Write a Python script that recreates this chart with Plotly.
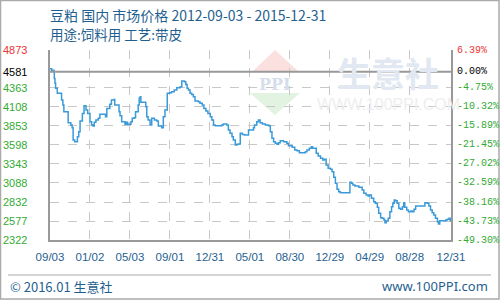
import plotly.graph_objects as go

# ---------------- data ----------------
dates = [
    "2012-09-03", "2012-09-08", "2012-09-15", "2012-09-16", "2012-09-18", "2012-09-20", "2012-09-25",
    "2012-10-08", "2012-10-12", "2012-10-15", "2012-10-28", "2012-11-05", "2012-11-09", "2012-11-12",
    "2012-11-17", "2012-11-23", "2012-11-25", "2012-11-29", "2012-12-03", "2012-12-10", "2012-12-15",
    "2012-12-19", "2012-12-21", "2012-12-26", "2012-12-30", "2013-01-02", "2013-01-07", "2013-01-11",
    "2013-01-15", "2013-01-20", "2013-01-27", "2013-02-01", "2013-02-16", "2013-02-18", "2013-02-22",
    "2013-03-03", "2013-03-08", "2013-03-15", "2013-03-18", "2013-03-27", "2013-03-31", "2013-04-03",
    "2013-04-08", "2013-04-18", "2013-04-22", "2013-04-26", "2013-05-06", "2013-05-10", "2013-05-16",
    "2013-05-20", "2013-05-28", "2013-05-31", "2013-06-03", "2013-06-05", "2013-06-15", "2013-06-20",
    "2013-06-23", "2013-06-27", "2013-07-03", "2013-07-08", "2013-07-16", "2013-07-23", "2013-07-28",
    "2013-08-07", "2013-08-12", "2013-08-17", "2013-08-24", "2013-08-31", "2013-09-06", "2013-09-14",
    "2013-09-22", "2013-10-02", "2013-10-07", "2013-10-15", "2013-10-19", "2013-10-23", "2013-10-27",
    "2013-11-01", "2013-11-06", "2013-11-11", "2013-11-16", "2013-11-26", "2013-12-01", "2013-12-08",
    "2013-12-13", "2013-12-19", "2013-12-25", "2014-01-01", "2014-01-06", "2014-01-11", "2014-01-16",
    "2014-02-05", "2014-02-10", "2014-02-20", "2014-02-25", "2014-03-02", "2014-03-08", "2014-03-12",
    "2014-03-18", "2014-03-23", "2014-03-28", "2014-04-02", "2014-04-08", "2014-04-15", "2014-04-22",
    "2014-04-27", "2014-05-05", "2014-05-12", "2014-05-15", "2014-05-22", "2014-05-27", "2014-06-01",
    "2014-06-08", "2014-06-17", "2014-06-27", "2014-07-02", "2014-07-07", "2014-07-12", "2014-07-17",
    "2014-07-22", "2014-07-27", "2014-08-01", "2014-08-11", "2014-08-21", "2014-08-26", "2014-09-06",
    "2014-09-14", "2014-09-21", "2014-09-28", "2014-10-11", "2014-10-16", "2014-10-21", "2014-10-28",
    "2014-11-03", "2014-11-07", "2014-11-13", "2014-11-18", "2014-11-24", "2014-12-01", "2014-12-08",
    "2014-12-13", "2014-12-18", "2014-12-24", "2014-12-31", "2015-01-05", "2015-01-10", "2015-01-15",
    "2015-01-20", "2015-01-25", "2015-01-30", "2015-02-25", "2015-02-28", "2015-03-05", "2015-03-09",
    "2015-03-15", "2015-03-22", "2015-03-27", "2015-04-01", "2015-04-06", "2015-04-11", "2015-04-18",
    "2015-04-24", "2015-04-28", "2015-05-04", "2015-05-11", "2015-05-16", "2015-05-22", "2015-05-26",
    "2015-06-01", "2015-06-06", "2015-06-11", "2015-06-14", "2015-06-18", "2015-06-24", "2015-06-29",
    "2015-07-04", "2015-07-08", "2015-07-12", "2015-07-16", "2015-07-21", "2015-07-26", "2015-07-31",
    "2015-08-06", "2015-08-10", "2015-08-13", "2015-08-19", "2015-08-24", "2015-08-31", "2015-09-05",
    "2015-09-10", "2015-09-15", "2015-10-09", "2015-10-13", "2015-10-20", "2015-10-25", "2015-10-30",
    "2015-11-04", "2015-11-09", "2015-11-14", "2015-11-20", "2015-11-23", "2015-11-27", "2015-12-10",
    "2015-12-15", "2015-12-20", "2015-12-25", "2015-12-29", "2015-12-31",
]
prices = [
    4620, 4600, 4581, 4492, 4425, 4358, 4291,
    4201, 4134, 4044, 3896, 3865, 3829, 3664,
    3641, 3641, 3708, 3775, 3919, 4022, 4124,
    4124, 4067, 4022, 4022, 3910, 3865, 3852,
    3902, 3932, 3955, 4009, 4009, 3977, 4089,
    4143, 4201, 4210, 4134, 4134, 4044, 3990,
    3910, 3875, 3902, 3875, 3910, 3955, 3963,
    4044, 4134, 4224, 4245, 4170, 4170, 4111,
    3977, 3932, 3865, 3955, 3932, 3919, 3852,
    3829, 3977, 4067, 4291, 4299, 4312, 4335,
    4366, 4379, 4456, 4446, 4411, 4358, 4335,
    4291, 4277, 4245, 4187, 4178, 4157, 4134,
    4089, 4053, 4022, 3977, 3932, 3865, 3856,
    3865, 3879, 3865, 3798, 3754, 3708, 3664,
    3597, 3606, 3610, 3754, 3740, 3731, 3731,
    3798, 3798, 3829, 3865, 3910, 3932, 3896,
    3879, 3865, 3856, 3775, 3687, 3641, 3620,
    3606, 3628, 3655, 3641, 3620, 3588, 3566,
    3530, 3520, 3494, 3494, 3507, 3530, 3553,
    3574, 3553, 3553, 3486, 3449, 3418, 3396,
    3405, 3329, 3284, 3271, 3239, 3163, 3083,
    3002, 2970, 2957, 2957, 3096, 3083, 3060,
    3047, 3047, 3029, 3029, 2993, 2949, 2926,
    2912, 2926, 2882, 2836, 2815, 2761, 2680,
    2621, 2613, 2590, 2554, 2577, 2613, 2702,
    2769, 2815, 2859, 2849, 2815, 2747, 2734,
    2769, 2823, 2761, 2725, 2702, 2711, 2702,
    2734, 2778, 2778, 2823, 2815, 2778, 2725,
    2688, 2658, 2613, 2568, 2537, 2581, 2577,
    2590, 2600, 2613, 2581, 2581,
]

base_price = 4581
left_ticks = [4873, 4581, 4363, 4108, 3853, 3598, 3343, 3088, 2832, 2577, 2322]
right_ticks = ["6.39%", "0.00%", "-4.75%", "-10.32%", "-15.89%", "-21.45%",
               "-27.02%", "-32.59%", "-38.16%", "-43.73%", "-49.30%"]
x_tick_dates = ["2012-09-03", "2013-01-02", "2013-05-03", "2013-09-01", "2013-12-31",
                "2014-05-01", "2014-08-30", "2014-12-29", "2015-04-29", "2015-08-28",
                "2015-12-31"]
x_tick_labels = ["09/03", "01/02", "05/03", "09/01", "12/31", "05/01", "08/30",
                 "12/29", "04/29", "08/28", "12/31"]

title_line1 = "豆粕 国内 市场价格 2012-09-03 - 2015-12-31"
title_line2 = "用途:饲料用 工艺:带皮"
footer_left = "© 2016.01 生意社"
footer_right = "www.100PPI.com"

# ---------------- layout helpers ----------------
W, H = 500, 300
L, R, T, B = 50, 49, 50, 60
PW, PH = W - L - R, H - T - B


def px(x):
    return (x - L) / PW


def py(y):
    return (H - B - y) / PH


BLUE_TXT = "#1f5f8f"
GREEN = "#33aa33"
RED = "#ee3333"
GRID = "#c8c8c8"
AXIS = "#999999"

fig = go.Figure()
fig.add_trace(go.Scatter(
    x=dates, y=prices, mode="lines", line=dict(color="#3a9ad9", width=1.5, shape="hv"),
    hoverinfo="skip", showlegend=False,
))

annotations = []
label_font = "Liberation Sans, Arial, sans-serif"
for i, (v, r) in enumerate(zip(left_ticks, right_ticks)):
    col = RED if i == 0 else ("#000000" if v == base_price else GREEN)
    annotations.append(dict(x=px(29), y=v, xref="paper", yref="y", text=str(v),
                            showarrow=False, xanchor="right", yanchor="middle",
                            font=dict(family=label_font, size=11, color=col)))
    annotations.append(dict(x=px(455), y=v, xref="paper", yref="y", text=r,
                            showarrow=False, xanchor="left", yanchor="middle",
                            font=dict(family="Liberation Mono, DejaVu Sans Mono, monospace",
                                      size=10, color=col)))

cjk = "Noto Sans CJK SC, sans-serif"
annotations += [
    dict(x=px(48), y=py(15), xref="paper", yref="paper", text=title_line1, showarrow=False,
         xanchor="left", yanchor="middle", font=dict(family=cjk, size=14, color=BLUE_TXT)),
    dict(x=px(48), y=py(34), xref="paper", yref="paper", text=title_line2, showarrow=False,
         xanchor="left", yanchor="middle", font=dict(family=cjk, size=13.5, color=BLUE_TXT)),
    dict(x=px(8), y=py(286), xref="paper", yref="paper", text=footer_left, showarrow=False,
         xanchor="left", yanchor="middle", font=dict(family=cjk, size=13, color=BLUE_TXT)),
    dict(x=px(490), y=py(286), xref="paper", yref="paper", text=footer_right, showarrow=False,
         xanchor="right", yanchor="middle", font=dict(family="Noto Sans, sans-serif", size=13, color=BLUE_TXT)),
    # watermark
    dict(x=px(275), y=py(84), xref="paper", yref="paper", text="<b>PPI</b>", showarrow=False,
         xanchor="center", yanchor="middle", font=dict(family="DejaVu Serif, serif", size=16, color="#d6deec")),
    dict(x=px(388), y=py(72), xref="paper", yref="paper", text="<b>生意社</b>", showarrow=False,
         xanchor="center", yanchor="middle", font=dict(family=cjk, size=34, color="#e2e8f1")),
    dict(x=px(388), y=py(104), xref="paper", yref="paper", text="WWW.100PPI.COM", showarrow=False,
         xanchor="center", yanchor="middle", font=dict(family="Liberation Sans, sans-serif", size=16, color="#eeeeee")),
]

shapes = [
    # watermark triangles
    dict(type="path", xref="paper", yref="paper", layer="below", line=dict(width=0),
         fillcolor="#fbe0e0",
         path=f"M{px(275)},{py(50)} L{px(253)},{py(71)} L{px(298)},{py(71)} Z"),
    dict(type="path", xref="paper", yref="paper", layer="below", line=dict(width=0),
         fillcolor="#e2f3e2",
         path=f"M{px(250)},{py(93)} L{px(300)},{py(93)} L{px(275)},{py(115)} Z"),
    # base price line
    dict(type="line", xref="paper", yref="y", x0=0, x1=1, y0=base_price, y1=base_price,
         line=dict(color=AXIS, width=2), layer="above"),
    # footer separator
    dict(type="line", xref="paper", yref="paper", x0=px(8), x1=px(491), y0=py(275), y1=py(275),
         line=dict(color="#aaaaaa", width=1)),
    # outer border
    dict(type="rect", xref="paper", yref="paper", x0=px(0.5), x1=px(499), y0=py(299), y1=py(0.5),
         line=dict(color="#aaaaaa", width=1.5)),
]

fig.update_layout(
    width=W, height=H, margin=dict(l=L, r=R, t=T, b=B, pad=0),
    paper_bgcolor="white", plot_bgcolor="white",
    annotations=annotations, shapes=shapes,
    xaxis=dict(type="date", range=[x_tick_dates[0], x_tick_dates[-1]],
               tickmode="array", tickvals=x_tick_dates, ticktext=x_tick_labels,
               showgrid=True, gridcolor=GRID, griddash="dash", gridwidth=1,
               showline=True, linecolor=AXIS, linewidth=2, mirror=False,
               ticks="", ticklabelstandoff=5,
               tickfont=dict(family=label_font, size=11.5, color=BLUE_TXT),
               zeroline=False, fixedrange=True),
    yaxis=dict(range=[left_ticks[-1], left_ticks[0]], tickmode="array", tickvals=left_ticks,
               showticklabels=False, showgrid=True, gridcolor=GRID, griddash="dash", gridwidth=1,
               showline=True, linecolor=AXIS, linewidth=2, mirror=True, ticks="",
               zeroline=False, fixedrange=True),
)

fig.write_html("out.html")
